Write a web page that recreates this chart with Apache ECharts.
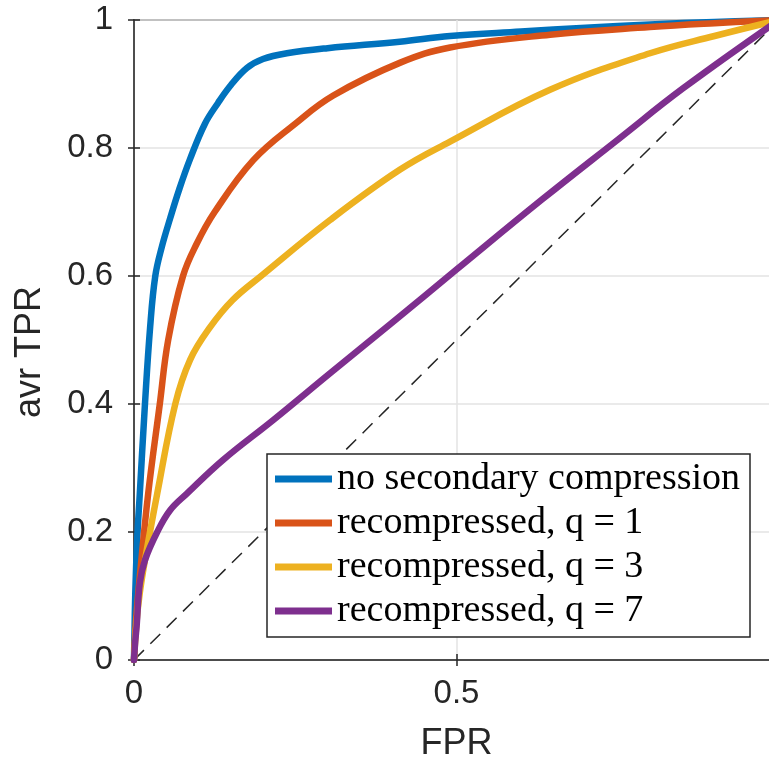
<!DOCTYPE html>
<html>
<head>
<meta charset="utf-8">
<script src="https://cdn.jsdelivr.net/npm/echarts@6/dist/echarts.min.js"></script>
<style>
  html, body { margin: 0; padding: 0; background: #fff; overflow: hidden; }
  #chart { width: 800px; height: 759px; }
</style>
</head>
<body>
<div id="chart"></div>
<script>
// ROC curves
const seriesNames = ['no secondary compression', 'recompressed, q = 1', 'recompressed, q = 3', 'recompressed, q = 7']
const seriesColors = ['#0072BD', '#D95319', '#EDB120', '#7E2F8E']

const fprNone = [0, 0.002, 0.005, 0.009, 0.017, 0.025, 0.033, 0.043, 0.056, 0.07, 0.087, 0.11, 0.13, 0.15, 0.175, 0.2, 0.237, 0.3, 0.412, 0.49, 0.6, 0.7, 0.8, 0.9, 1]
const tprNone = [0, 0.105, 0.19, 0.26, 0.4, 0.52, 0.6, 0.645, 0.69, 0.735, 0.783, 0.838, 0.87, 0.898, 0.925, 0.939, 0.948, 0.956, 0.966, 0.975, 0.982, 0.988, 0.993, 0.997, 1]

const fprQ1 = [0, 0.003, 0.009, 0.022, 0.04, 0.053, 0.076, 0.097, 0.125, 0.185, 0.25, 0.309, 0.412, 0.49, 0.645, 0.8, 0.9, 1]
const tprQ1 = [0, 0.06, 0.13, 0.26, 0.4, 0.5, 0.6, 0.65, 0.7, 0.781, 0.838, 0.882, 0.933, 0.957, 0.977, 0.989, 0.995, 1]

const fprQ3 = [0, 0.004, 0.009, 0.017, 0.036, 0.064, 0.087, 0.118, 0.153, 0.197, 0.304, 0.412, 0.49, 0.645, 0.8, 0.9, 1]
const tprQ3 = [0, 0.06, 0.105, 0.156, 0.26, 0.4, 0.469, 0.52, 0.5625, 0.6, 0.6875, 0.766, 0.81, 0.891, 0.948, 0.975, 1]

const fprQ7 = [0, 0.002, 0.004, 0.009, 0.017, 0.036, 0.056, 0.082, 0.138, 0.216, 0.304, 0.4, 0.5, 0.632, 0.75, 0.851, 1]
const tprQ7 = [0, 0.03, 0.052, 0.12, 0.156, 0.2, 0.234, 0.26, 0.3125, 0.375, 0.448, 0.527, 0.61, 0.719, 0.813, 0.893, 1]

const chanceLine = [[0, 0], [1, 1]]

const curves = [[fprNone, tprNone], [fprQ1, tprQ1], [fprQ3, tprQ3], [fprQ7, tprQ7]]

const axisColor = '#262626'
const sansFont = '"Liberation Sans", Arial, sans-serif'

const chart = echarts.init(document.getElementById('chart'), null, { renderer: 'canvas' })

chart.setOption({
  animation: false,
  backgroundColor: '#fff',
  grid: {
    left: 134, right: 21, top: 20, bottom: 99,
    outerBoundsMode: 'none', containLabel: false,
    show: true, borderColor: axisColor, borderWidth: 1.5, backgroundColor: 'transparent',
  },
  legend: {
    data: seriesNames,
    orient: 'vertical',
    left: 267,
    top: 454,
    icon: 'rect',
    itemWidth: 57,
    itemHeight: 7,
    itemGap: 6,
    padding: [6, 8, 7, 8],
    backgroundColor: '#fff',
    borderColor: axisColor,
    borderWidth: 1.5,
    borderRadius: 0,
    textStyle: { fontFamily: '"Liberation Serif", "Times New Roman", serif', fontSize: 38, lineHeight: 37, color: '#000', width: 405 },
  },
  xAxis: [
    {
      type: 'value', min: 0, max: 1, interval: 0.5,
      name: 'FPR', nameLocation: 'middle', nameGap: 66,
      nameTextStyle: { fontFamily: sansFont, fontSize: 36, color: axisColor },
      axisLine: { show: true, lineStyle: { color: axisColor, width: 1.5 } },
      axisTick: { show: true, inside: true, length: 6, lineStyle: { color: axisColor, width: 1.5 } },
      axisLabel: { fontFamily: sansFont, fontSize: 33, color: axisColor, margin: 17, formatter: v => String(+v.toFixed(1)) },
      splitLine: { show: true, lineStyle: { color: '#e3e3e3', width: 1.5 } },
    },
    {
      type: 'value', position: 'top', min: 0, max: 1, interval: 0.5,
      axisLine: { show: false },
      axisTick: { show: true, inside: true, length: 6, lineStyle: { color: axisColor, width: 1.5 } },
      axisLabel: { show: false }, splitLine: { show: false },
    },
  ],
  yAxis: [
    {
      type: 'value', min: 0, max: 1, interval: 0.2,
      name: 'avr TPR', nameLocation: 'middle', nameGap: 86,
      nameTextStyle: { fontFamily: sansFont, fontSize: 36, color: axisColor, padding: [0, 24, 0, 0] },
      axisLine: { show: true, lineStyle: { color: axisColor, width: 1.5 } },
      axisTick: { show: true, inside: true, length: 6, lineStyle: { color: axisColor, width: 1.5 } },
      axisLabel: { fontFamily: sansFont, fontSize: 33, color: axisColor, margin: 21, formatter: v => String(+v.toFixed(1)) },
      splitLine: { show: true, lineStyle: { color: '#e3e3e3', width: 1.5 } },
    },
    {
      type: 'value', position: 'right', min: 0, max: 1, interval: 0.2,
      axisLine: { show: false },
      axisTick: { show: true, inside: true, length: 6, lineStyle: { color: axisColor, width: 1.5 } },
      axisLabel: { show: false }, splitLine: { show: false },
    },
  ],
  series: [
    ...curves.map(([xs, ys], i) => ({
      name: seriesNames[i],
      type: 'line',
      data: xs.map((x, j) => [x, ys[j]]),
      smooth: 0.4,
      symbol: 'none',
      color: seriesColors[i],
      lineStyle: { color: seriesColors[i], width: 6.5, join: 'round', cap: 'round' },
      z: 3 + i,
    })),
    {
      name: 'chance',
      type: 'line',
      data: chanceLine,
      symbol: 'none',
      lineStyle: { color: axisColor, width: 1.5, type: [14, 9] },
      z: 2,
    },
  ],
})
</script>
</body>
</html>
